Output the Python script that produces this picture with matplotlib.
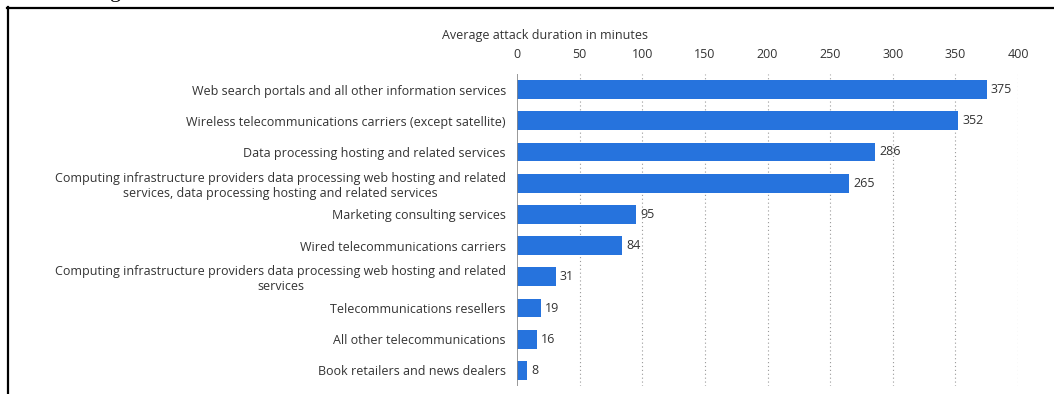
import matplotlib.pyplot as plt
from matplotlib.lines import Line2D

plt.rcParams['font.family'] = ['Open Sans', 'DejaVu Sans']

categories = [
    "Web search portals and all other information services",
    "Wireless telecommunications carriers (except satellite)",
    "Data processing hosting and related services",
    "Computing infrastructure providers data processing web hosting and related\nservices, data processing hosting and related services",
    "Marketing consulting services",
    "Wired telecommunications carriers",
    "Computing infrastructure providers data processing web hosting and related\nservices",
    "Telecommunications resellers",
    "All other telecommunications",
    "Book retailers and news dealers",
]
values = [375, 352, 286, 265, 95, 84, 31, 19, 16, 8]
xticks = [0, 50, 100, 150, 200, 250, 300, 350, 400]

W, H = 1054, 394
fig = plt.figure(figsize=(W / 100, H / 100), dpi=100)
ax = fig.add_axes([517 / W, 1 - 386 / H, (1018 - 517) / W, (386 - 74) / H])

ypos = list(range(len(categories)))
ax.barh(ypos, values, height=0.6, color='#2673dd', zorder=3)
for y, v in zip(ypos, values):
    ax.annotate(str(v), (v, y), xytext=(3, 0), textcoords='offset points',
                va='center', ha='left', fontsize=9, color='#333333')

ax.set_xlim(0, 400)
ax.set_ylim(len(categories) - 0.5, -0.5)
ax.set_xticks(xticks)
ax.set_xticklabels([str(t) for t in xticks], fontsize=9, color='#333333')
ax.xaxis.tick_top()
ax.tick_params(axis='x', length=0, pad=9)
ax.set_yticks(ypos)
ax.set_yticklabels(categories, fontsize=9, color='#333333')
ax.tick_params(axis='y', length=0, pad=8)
for lbl in ax.get_yticklabels():
    lbl.set_multialignment('center')

for t in xticks[1:]:
    ax.axvline(t, color='#999999', linewidth=0.8, linestyle=(0, (1, 2.5)), zorder=1)
ax.axvline(0, color='#888888', linewidth=1.2, zorder=4)
for s in ax.spines.values():
    s.set_visible(False)

fig.text(442 / W, 1 - 35 / H, "Average attack duration in minutes",
         ha='left', va='center', fontsize=9, color='#333333')

# page frame and clipped text above
fig.add_artist(Line2D([7 / W, 1], [1 - 7.5 / H, 1 - 7.5 / H], color='black', linewidth=1.6,
                      transform=fig.transFigure))
fig.add_artist(Line2D([7.5 / W, 7.5 / W], [0, 1 - 7 / H], color='black', linewidth=1.6,
                      transform=fig.transFigure))
fig.text(110 / W, 1 + 2.5 / H, "g", family='Liberation Serif', fontsize=16,
         ha='left', va='baseline', color='black')

fig.savefig('out.png', dpi=100)
